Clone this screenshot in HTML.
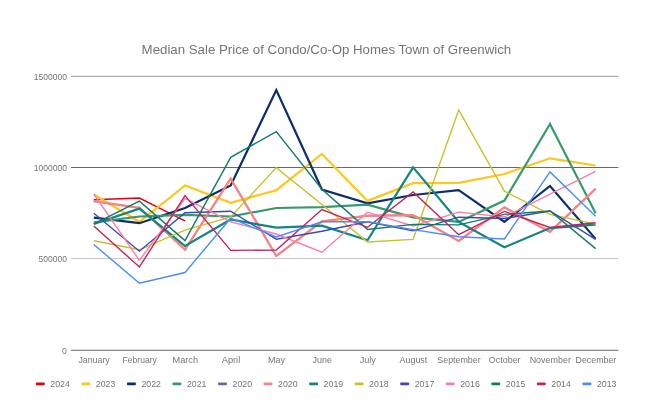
<!DOCTYPE html>
<html><head><meta charset="utf-8"><title>Chart</title>
<style>
html,body{margin:0;padding:0;background:#fff;}
body{width:645px;height:407px;overflow:hidden;font-family:"Liberation Sans",sans-serif;}
svg{display:block;}
text{font-family:"Liberation Sans",sans-serif;}
</style></head><body>
<svg width="645" height="407" viewBox="0 0 645 407">
<defs><filter id="b" x="0" y="0" width="645" height="407" filterUnits="userSpaceOnUse"><feGaussianBlur stdDeviation="0.35"/></filter></defs>
<rect width="645" height="407" fill="#ffffff"/>
<g filter="url(#b)">
<text x="141.6" y="53.7" font-size="13" fill="#757575" textLength="369.6" lengthAdjust="spacingAndGlyphs">Median Sale Price of Condo/Co-Op Homes Town of Greenwich</text>
<line x1="71" y1="76.3" x2="618.4" y2="76.3" stroke="#a0a0a0" stroke-width="1"/>
<line x1="71" y1="167.5" x2="618.4" y2="167.5" stroke="#686868" stroke-width="1"/>
<line x1="71" y1="258.5" x2="618.4" y2="258.5" stroke="#cccccc" stroke-width="1"/>
<line x1="71" y1="350.4" x2="618.4" y2="350.4" stroke="#888888" stroke-width="1.3"/>
<text x="66.9" y="79.6" text-anchor="end" font-size="9.6" fill="#757575" textLength="33.2" lengthAdjust="spacingAndGlyphs">1500000</text>
<text x="66.9" y="170.6" text-anchor="end" font-size="9.6" fill="#757575" textLength="33.2" lengthAdjust="spacingAndGlyphs">1000000</text>
<text x="66.9" y="262.4" text-anchor="end" font-size="9.6" fill="#757575" textLength="28.4" lengthAdjust="spacingAndGlyphs">500000</text>
<text x="66.9" y="353.6" text-anchor="end" font-size="9.6" fill="#757575" textLength="4.8" lengthAdjust="spacingAndGlyphs">0</text>
<text x="94.1" y="363.2" text-anchor="middle" font-size="9" fill="#757575" textLength="31.3" lengthAdjust="spacingAndGlyphs">January</text>
<text x="139.7" y="363.2" text-anchor="middle" font-size="9" fill="#757575" textLength="34.3" lengthAdjust="spacingAndGlyphs">February</text>
<text x="185.3" y="363.2" text-anchor="middle" font-size="9" fill="#757575" textLength="25.6" lengthAdjust="spacingAndGlyphs">March</text>
<text x="231.0" y="363.2" text-anchor="middle" font-size="9" fill="#757575" textLength="18.4" lengthAdjust="spacingAndGlyphs">April</text>
<text x="276.6" y="363.2" text-anchor="middle" font-size="9" fill="#757575" textLength="17.0" lengthAdjust="spacingAndGlyphs">May</text>
<text x="322.2" y="363.2" text-anchor="middle" font-size="9" fill="#757575" textLength="19.5" lengthAdjust="spacingAndGlyphs">June</text>
<text x="367.8" y="363.2" text-anchor="middle" font-size="9" fill="#757575" textLength="16.2" lengthAdjust="spacingAndGlyphs">July</text>
<text x="413.4" y="363.2" text-anchor="middle" font-size="9" fill="#757575" textLength="27.8" lengthAdjust="spacingAndGlyphs">August</text>
<text x="459.0" y="363.2" text-anchor="middle" font-size="9" fill="#757575" textLength="43.4" lengthAdjust="spacingAndGlyphs">September</text>
<text x="504.7" y="363.2" text-anchor="middle" font-size="9" fill="#757575" textLength="31.8" lengthAdjust="spacingAndGlyphs">October</text>
<text x="550.3" y="363.2" text-anchor="middle" font-size="9" fill="#757575" textLength="41.3" lengthAdjust="spacingAndGlyphs">November</text>
<text x="595.9" y="363.2" text-anchor="middle" font-size="9" fill="#757575" textLength="40.7" lengthAdjust="spacingAndGlyphs">December</text>
<g fill="none" stroke-linejoin="miter" stroke-linecap="butt">
<polyline points="93.8,199.8 139.4,198.0 185.0,220.9" stroke="#e3000f" stroke-width="1.4"/>
<polyline points="93.8,194.5 139.4,221.8 185.0,185.5 230.7,202.8 276.3,190.2 321.9,153.9 367.5,200.9 413.1,183.2 458.7,182.8 504.4,174.0 550.0,158.3 595.6,165.5" stroke="#ffc61a" stroke-width="2.2"/>
<polyline points="93.8,217.7 139.4,223.2 185.0,208.0 230.7,185.5 276.3,90.0 321.9,189.5 367.5,203.3 413.1,195.0 458.7,190.1 504.4,221.8 550.0,186.0 595.6,238.9" stroke="#0b2d6e" stroke-width="2.2"/>
<polyline points="93.8,222.4 139.4,216.5 185.0,214.9 230.7,216.5 276.3,208.0 321.9,207.1 367.5,204.6 413.1,217.3 458.7,221.9 504.4,200.6 550.0,124.0 595.6,213.3" stroke="#379a6b" stroke-width="2.2"/>
<polyline points="93.8,201.2 139.4,207.8 185.0,249.6 230.7,178.6 276.3,256.0 321.9,221.4 367.5,215.7 413.1,215.2 458.7,241.0 504.4,207.4 550.0,231.8 595.6,188.7" stroke="#6264ad" stroke-width="1.4"/>
<polyline points="93.8,201.2 139.4,207.8 185.0,249.6 230.7,178.6 276.3,256.0 321.9,221.4 367.5,215.7 413.1,215.2 458.7,241.0 504.4,207.4 550.0,231.8 595.6,188.7" stroke="#fa8283" stroke-width="2.2"/>
<polyline points="93.8,224.0 139.4,208.6 185.0,246.0 230.7,219.5 276.3,227.7 321.9,225.6 367.5,240.3 413.1,167.3 458.7,222.0 504.4,247.3 550.0,228.1 595.6,224.7" stroke="#12857f" stroke-width="2.2"/>
<polyline points="93.8,240.8 139.4,249.8 185.0,230.2 230.7,217.0 276.3,167.6 321.9,204.5 367.5,242.0 413.1,239.4 458.7,110.0 504.4,191.2 550.0,214.4 595.6,224.1" stroke="#c9c02d" stroke-width="1.4"/>
<polyline points="93.8,213.3 139.4,251.2 185.0,212.8 230.7,211.2 276.3,239.2 321.9,231.2 367.5,221.8 413.1,230.9 458.7,217.2 504.4,218.5 550.0,211.0 595.6,239.4" stroke="#3b48b4" stroke-width="1.4"/>
<polyline points="93.8,194.0 139.4,260.3 185.0,198.5 230.7,221.8 276.3,234.0 321.9,252.2 367.5,212.2 413.1,226.0 458.7,212.1 504.4,217.0 550.0,194.0 595.6,171.3" stroke="#f780ab" stroke-width="1.4"/>
<polyline points="93.8,224.2 139.4,201.1 185.0,240.6 230.7,157.3 276.3,131.6 321.9,189.2 367.5,229.4 413.1,224.4 458.7,224.9 504.4,214.4 550.0,211.0 595.6,248.6" stroke="#147a68" stroke-width="1.4"/>
<polyline points="93.8,226.0 139.4,267.0 185.0,195.6 230.7,250.4 276.3,250.0 321.9,209.6 367.5,227.3 413.1,192.0 458.7,234.7 504.4,211.4 550.0,227.5 595.6,222.7" stroke="#c3245f" stroke-width="1.4"/>
<polyline points="93.8,244.5 139.4,283.3 185.0,272.5 230.7,218.2 276.3,237.0 321.9,221.8 367.5,221.6 413.1,229.6 458.7,236.7 504.4,239.0 550.0,171.9 595.6,216.3" stroke="#4c8df5" stroke-width="1.4"/>
</g>
<rect x="35.9" y="382.6" width="8.8" height="2.7" rx="0.7" fill="#e3000f"/>
<text x="50.3" y="387.4" font-size="9" fill="#757575" textLength="19.6" lengthAdjust="spacingAndGlyphs">2024</text>
<rect x="81.4" y="382.6" width="8.8" height="2.7" rx="0.7" fill="#ffc61a"/>
<text x="95.8" y="387.4" font-size="9" fill="#757575" textLength="19.6" lengthAdjust="spacingAndGlyphs">2023</text>
<rect x="127.0" y="382.6" width="8.8" height="2.7" rx="0.7" fill="#0b2d6e"/>
<text x="141.4" y="387.4" font-size="9" fill="#757575" textLength="19.6" lengthAdjust="spacingAndGlyphs">2022</text>
<rect x="172.5" y="382.6" width="8.8" height="2.7" rx="0.7" fill="#379a6b"/>
<text x="186.9" y="387.4" font-size="9" fill="#757575" textLength="19.6" lengthAdjust="spacingAndGlyphs">2021</text>
<rect x="218.1" y="382.6" width="8.8" height="2.7" rx="0.7" fill="#6264ad"/>
<text x="232.5" y="387.4" font-size="9" fill="#757575" textLength="19.6" lengthAdjust="spacingAndGlyphs">2020</text>
<rect x="263.6" y="382.6" width="8.8" height="2.7" rx="0.7" fill="#fa8283"/>
<text x="278.0" y="387.4" font-size="9" fill="#757575" textLength="19.6" lengthAdjust="spacingAndGlyphs">2020</text>
<rect x="309.2" y="382.6" width="8.8" height="2.7" rx="0.7" fill="#12857f"/>
<text x="323.6" y="387.4" font-size="9" fill="#757575" textLength="19.6" lengthAdjust="spacingAndGlyphs">2019</text>
<rect x="354.7" y="382.6" width="8.8" height="2.7" rx="0.7" fill="#c9c02d"/>
<text x="369.1" y="387.4" font-size="9" fill="#757575" textLength="19.6" lengthAdjust="spacingAndGlyphs">2018</text>
<rect x="400.3" y="382.6" width="8.8" height="2.7" rx="0.7" fill="#3b48b4"/>
<text x="414.7" y="387.4" font-size="9" fill="#757575" textLength="19.6" lengthAdjust="spacingAndGlyphs">2017</text>
<rect x="445.8" y="382.6" width="8.8" height="2.7" rx="0.7" fill="#f780ab"/>
<text x="460.2" y="387.4" font-size="9" fill="#757575" textLength="19.6" lengthAdjust="spacingAndGlyphs">2016</text>
<rect x="491.4" y="382.6" width="8.8" height="2.7" rx="0.7" fill="#147a68"/>
<text x="505.8" y="387.4" font-size="9" fill="#757575" textLength="19.6" lengthAdjust="spacingAndGlyphs">2015</text>
<rect x="536.9" y="382.6" width="8.8" height="2.7" rx="0.7" fill="#c3245f"/>
<text x="551.3" y="387.4" font-size="9" fill="#757575" textLength="19.6" lengthAdjust="spacingAndGlyphs">2014</text>
<rect x="582.5" y="382.6" width="8.8" height="2.7" rx="0.7" fill="#4c8df5"/>
<text x="596.9" y="387.4" font-size="9" fill="#757575" textLength="19.6" lengthAdjust="spacingAndGlyphs">2013</text>
</g>
</svg></body></html>
